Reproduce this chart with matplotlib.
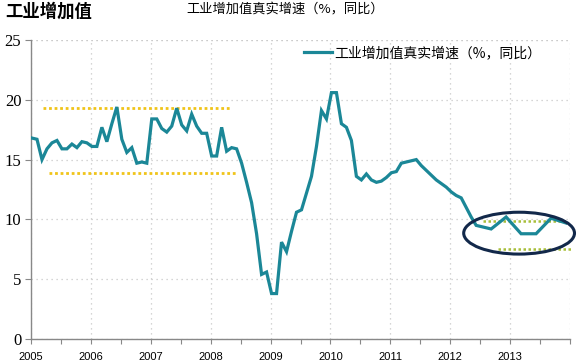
import numpy as np
import matplotlib
matplotlib.use('Agg')
import matplotlib.pyplot as plt
from matplotlib.patches import Ellipse

plt.rcParams['font.family'] = ['Noto Sans CJK SC', 'DejaVu Sans']

# meses desde ene-2005 y valor (%)
meses = list(range(0, 90)) + [92, 95, 98, 101, 104, 107]
valores = [16.8, 16.7, 15.0, 15.9, 16.4, 16.6, 15.9, 15.9, 16.3, 16.0, 16.5, 16.4,
           16.1, 16.1, 17.7, 16.5, 18.0, 19.4, 16.7, 15.6, 16.0, 14.7, 14.8, 14.7,
           18.4, 18.4, 17.6, 17.3, 17.8, 19.3, 17.9, 17.4, 18.8, 17.8, 17.2, 17.2,
           15.3, 15.3, 17.7, 15.7, 16.0, 15.9, 14.7, 13.1, 11.4, 8.8, 5.4, 5.6,
           3.8, 3.8, 8.1, 7.3, 9.0, 10.6, 10.8, 12.2, 13.6, 16.1, 19.1, 18.4,
           20.6, 20.6, 18.0, 17.7, 16.6, 13.6, 13.3, 13.8, 13.3, 13.1, 13.2, 13.5,
           13.9, 14.0, 14.7, 14.8, 14.9, 15.0, 14.5, 14.1, 13.7, 13.3, 13.0, 12.7,
           12.3, 12.0, 11.8, 11.0, 10.2, 9.5,
           9.2, 10.2, 8.8, 8.8, 10.1, 9.7]

anios = list(range(2005, 2014))
serie = '工业增加值真实增速（%，同比）'

# rangos marcados con lineas punteadas: (inicio, fin, nivel)
bandas_amarillas = [(2005.2, 2008.32, 19.35), (2005.3, 2008.42, 13.9)]
bandas_verdes = [(2012.55, 2013.93, 9.9), (2012.8, 2014.03, 7.5)]

x = 2005 + (np.array(meses) + 0.2) / 12

fig = plt.figure(figsize=(5.8, 3.62), dpi=100)
ax = fig.add_axes([31/580, 1-339/362, 539/580, 299/362])

for a, b, v in bandas_amarillas:
    ax.plot([a, b], [v, v], ls=(0, (1, 1)), color='#F0C419', lw=2.0, zorder=2)
for a, b, v in bandas_verdes:
    ax.plot([a, b], [v, v], ls=(0, (1, 1)), color='#A8BE3A', lw=1.8, zorder=2, clip_on=False)

ax.plot(x, valores, color='#1B8797', lw=2.3, label=serie, zorder=3, solid_joinstyle='miter')

elipse = Ellipse((2013.15, 8.85), 1.85, 3.5, fill=False, edgecolor='#12284A', lw=2.2,
                 clip_on=False, zorder=4)
ax.add_patch(elipse)

ax.set_xlim(2005, 2014)
ax.set_ylim(0, 25)
ax.set_xticks(anios)
ax.set_xticklabels([str(a) for a in anios], family='Liberation Sans', fontsize=8)
ax.set_xticks(np.arange(2005.5, 2014.01, 0.5), minor=True)
ax.set_yticks(range(0, 26, 5))
ax.set_yticklabels([str(v) for v in range(0, 26, 5)], family='Liberation Serif', fontsize=12)

ax.tick_params(axis='x', which='both', direction='out', length=3.5, width=0.8, color='#888888', pad=6)
ax.tick_params(axis='y', direction='out', length=4, width=0.8, color='#888888', pad=3)

ax.grid(True, which='major', ls=(0, (1, 3)), color='#C8C8C8', lw=0.9)
ax.plot([2014, 2014], [0, 25], ls=(0, (1, 3)), color='#C8C8C8', lw=0.9)
ax.plot([2005, 2014], [25, 25], ls=(0, (1, 3)), color='#C8C8C8', lw=0.9)

for s in ['top', 'right']:
    ax.spines[s].set_visible(False)
for s in ['left', 'bottom']:
    ax.spines[s].set_color('#888888')
    ax.spines[s].set_linewidth(1.0)

ax.legend(loc='center left', bbox_to_anchor=(304/580, 1-53/362), bbox_transform=fig.transFigure,
          frameon=False, fontsize=10, handlelength=2.0, handletextpad=0.2,
          borderpad=0, borderaxespad=0)

fig.text(5/580, 1-12/362, '工业增加值', fontsize=12.5, fontweight='heavy', va='center', ha='left')
fig.text(186/580, 1-10/362, serie, fontsize=9.5, va='center', ha='left')

fig.savefig('out.png', dpi=100)
